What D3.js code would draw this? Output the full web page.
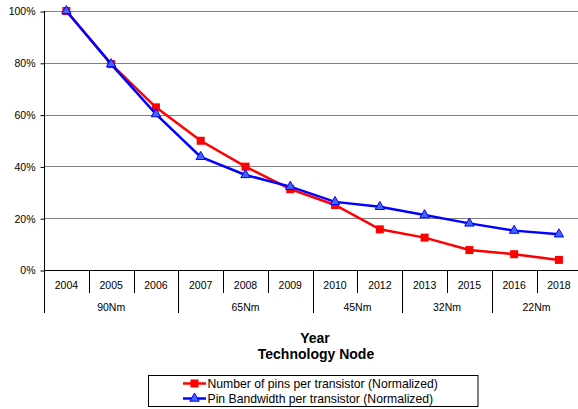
<!DOCTYPE html>
<html>
<head>
<meta charset="utf-8">
<script src="https://cdn.jsdelivr.net/npm/d3@7"></script>
<style>
  html, body { margin: 0; padding: 0; background: #fff; }
  svg { display: block; font-family: "Liberation Sans", Arial, sans-serif; }
</style>
</head>
<body>
<svg id="chart" width="578" height="409"></svg>
<script>
// Years along the x axis and the technology node each one belongs to
const years = ["2004", "2005", "2006", "2007", "2008", "2009", "2010", "2012", "2013", "2015", "2016", "2018"];
const nodes = ["90Nm", "90Nm", "90Nm", "65Nm", "65Nm", "65Nm", "45Nm", "45Nm", "32Nm", "32Nm", "22Nm", "22Nm"];

// Normalized values (percent of 2004)
const pinsPerTransistor = [100, 79.5, 62.8, 49.9, 39.9, 31.2, 25.1, 15.7, 12.5, 7.7, 6.1, 3.9];
const bandwidthPerTransistor = [100, 79.5, 60.2, 43.7, 36.7, 32.2, 26.3, 24.4, 21.2, 18.0, 15.2, 13.8];

const yTicks = [0, 20, 40, 60, 80, 100];

const seriesNames = [
  "Number of pins per transistor (Normalized)",
  "Pin Bandwidth per transistor (Normalized)"
];

const svg = d3.select("#chart");

const plotLeft = 44, plotRight = 581.3, plotTop = 11, plotBottom = 270;

const x = d3.scaleBand().domain(years).range([plotLeft, plotRight]).padding(0);
const y = d3.scaleLinear().domain([0, 100]).range([plotBottom, plotTop]);

// Horizontal gridlines
svg.append("g")
  .selectAll("line")
  .data(yTicks.filter(d => d > 0))
  .join("line")
  .attr("x1", plotLeft).attr("x2", 578)
  .attr("y1", d => Math.round(y(d)) + 0.5).attr("y2", d => Math.round(y(d)) + 0.5)
  .attr("stroke", "#808080").attr("stroke-width", 1);

// Y axis
const yAxis = d3.axisLeft(y)
  .tickValues(yTicks)
  .tickFormat(d => d + "%")
  .tickSize(4)
  .tickPadding(5);

const yg = svg.append("g")
  .attr("transform", `translate(${plotLeft + 0.5},0.5)`)
  .call(yAxis);
yg.select(".domain").attr("stroke", "#000").attr("d", `M0,${plotTop - 0.5}V${plotBottom}`);
yg.selectAll(".tick line").attr("stroke", "#000");
yg.selectAll(".tick text").attr("font-size", 10.5).attr("fill", "#000")
  .attr("font-family", "Liberation Sans, Arial, sans-serif");

// X axis baseline
svg.append("line")
  .attr("x1", plotLeft).attr("x2", 578)
  .attr("y1", plotBottom + 0.5).attr("y2", plotBottom + 0.5)
  .attr("stroke", "#000");

// Year separators (short) and node separators (long)
const boundaries = years.map((yr, i) => i).concat([years.length]);
svg.append("g")
  .selectAll("line")
  .data(boundaries)
  .join("line")
  .attr("x1", i => Math.round(i < years.length ? x(years[i]) : plotRight) + 0.5)
  .attr("x2", i => Math.round(i < years.length ? x(years[i]) : plotRight) + 0.5)
  .attr("y1", plotBottom)
  .attr("y2", i => (i === 0 || i === years.length || nodes[i] !== nodes[i - 1]) ? 313 : 293)
  .attr("stroke", "#000");

// Year labels
svg.append("g")
  .selectAll("text")
  .data(years)
  .join("text")
  .attr("x", d => x(d) + x.bandwidth() / 2)
  .attr("y", 289)
  .attr("text-anchor", "middle")
  .attr("font-size", 10.5)
  .text(d => d);

// Node group labels
const groups = d3.groups(years.map((yr, i) => ({ yr, node: nodes[i] })), d => d.node);
svg.append("g")
  .selectAll("text")
  .data(groups)
  .join("text")
  .attr("x", g => {
    const first = g[1][0].yr, last = g[1][g[1].length - 1].yr;
    return (x(first) + x(last) + x.bandwidth()) / 2;
  })
  .attr("y", 311)
  .attr("text-anchor", "middle")
  .attr("font-size", 10.5)
  .text(g => g[0]);

// Axis title
const title = svg.append("text")
  .attr("text-anchor", "middle")
  .attr("font-size", 14)
  .attr("font-weight", "bold");
title.append("tspan").attr("x", 315).attr("y", 342.5).text("Year");
title.append("tspan").attr("x", 316).attr("y", 358.5).text("Technology Node");

// Series lines
const line = d3.line()
  .x((d, i) => x(years[i]) + x.bandwidth() / 2)
  .y(d => y(d));

svg.append("path")
  .datum(pinsPerTransistor)
  .attr("fill", "none").attr("stroke", "#ff0000").attr("stroke-width", 2.5)
  .attr("d", line);

svg.append("g")
  .selectAll("rect")
  .data(pinsPerTransistor)
  .join("rect")
  .attr("x", (d, i) => x(years[i]) + x.bandwidth() / 2 - 4)
  .attr("y", d => y(d) - 4)
  .attr("width", 8).attr("height", 8)
  .attr("fill", "#ff0000");

svg.append("path")
  .datum(bandwidthPerTransistor)
  .attr("fill", "none").attr("stroke", "#0000ff").attr("stroke-width", 2.5)
  .attr("d", line);

const tri = d3.symbol().type(d3.symbolTriangle).size(38);
svg.append("g")
  .selectAll("path")
  .data(bandwidthPerTransistor)
  .join("path")
  .attr("transform", (d, i) => `translate(${x(years[i]) + x.bandwidth() / 2},${y(d)})`)
  .attr("d", tri)
  .attr("fill", "#3f66ff").attr("stroke", "#0000ff").attr("stroke-width", 1);

// Legend
const legend = svg.append("g");
legend.append("rect")
  .attr("x", 148.5).attr("y", 375.5)
  .attr("width", 329.5).attr("height", 31)
  .attr("fill", "#fff").attr("stroke", "#000");

const legendRows = [
  { name: seriesNames[0], color: "#ff0000", marker: "square", y: 383.5 },
  { name: seriesNames[1], color: "#0000ff", marker: "triangle", y: 398.5 }
];
legendRows.forEach(r => {
  legend.append("line")
    .attr("x1", 183).attr("x2", 206)
    .attr("y1", r.y).attr("y2", r.y)
    .attr("stroke", r.color).attr("stroke-width", 2.5);
  if (r.marker === "square") {
    legend.append("rect").attr("x", 190.5).attr("y", r.y - 4)
      .attr("width", 8).attr("height", 8).attr("fill", r.color);
  } else {
    legend.append("path").attr("transform", `translate(194.5,${r.y})`)
      .attr("d", tri).attr("fill", "#3f66ff").attr("stroke", "#0000ff");
  }
  legend.append("text")
    .attr("x", 207.5).attr("y", r.y + 4.3)
    .attr("font-size", 12.2)
    .text(r.name);
});
</script>
</body>
</html>
